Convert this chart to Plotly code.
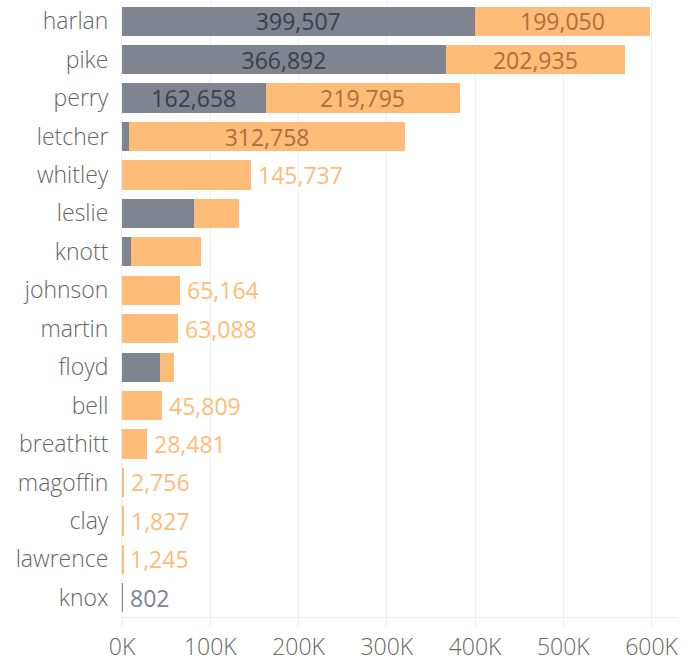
import plotly.graph_objects as go

counties = ["harlan", "pike", "perry", "letcher", "whitley", "leslie", "knott",
            "johnson", "martin", "floyd", "bell", "breathitt", "magoffin", "clay",
            "lawrence", "knox"]
gray_vals = [399507, 366892, 162658, 8000, 0, 81500, 10500, 0, 0, 43400, 0, 0, 0, 0, 0, 802]
orange_vals = [199050, 202935, 219795, 312758, 145737, 51000, 79400, 65164, 63088,
               15900, 45809, 28481, 2756, 1827, 1245, 0]
x_ticks = [0, 100000, 200000, 300000, 400000, 500000, 600000]
x_tick_labels = ["0K", "100K", "200K", "300K", "400K", "500K", "600K"]

GRAY = "#7e8490"
ORANGE = "#ffbb78"
GRAY_TXT_IN = "#3b3f46"
ORANGE_TXT_IN = "#a8703c"
LABEL_COL = "#666666"
FONT = "Open Sans"
AXIS_WEIGHT = 300
VAL_WEIGHT = 400
FS = 23
MIN_INSIDE = 150000


def inside_text(vals, other):
    return [f"{v:,}" if (v >= MIN_INSIDE and o > 0) else "" for v, o in zip(vals, other)]


fig = go.Figure()
fig.add_trace(go.Bar(
    y=counties, x=gray_vals, orientation="h", marker=dict(color=GRAY, line=dict(width=0)),
    text=inside_text(gray_vals, orange_vals), textposition="inside",
    insidetextanchor="middle", constraintext="none",
    textfont=dict(color=GRAY_TXT_IN, size=FS, family=FONT, weight=VAL_WEIGHT),
    hoverinfo="skip"))
fig.add_trace(go.Bar(
    y=counties, x=orange_vals, orientation="h", marker=dict(color=ORANGE, line=dict(width=0)),
    text=inside_text(orange_vals, gray_vals), textposition="inside",
    insidetextanchor="middle", constraintext="none",
    textfont=dict(color=ORANGE_TXT_IN, size=FS, family=FONT, weight=VAL_WEIGHT),
    hoverinfo="skip"))

# outside labels for single-segment bars
for c, g, o in zip(counties, gray_vals, orange_vals):
    if g == 0 or o == 0:
        val = o if g == 0 else g
        col = ORANGE if g == 0 else GRAY
        fig.add_annotation(x=g + o, y=c, text=f"{val:,}", showarrow=False,
                           xanchor="left", xshift=5,
                           font=dict(color=col, size=FS, family=FONT, weight=VAL_WEIGHT))

fig.update_layout(
    barmode="stack", bargap=0.24, showlegend=False,
    width=694, height=662, plot_bgcolor="white", paper_bgcolor="white",
    margin=dict(l=122, r=16, t=2, b=45, autoexpand=False),
    font=dict(family=FONT, weight=AXIS_WEIGHT),
)
fig.update_yaxes(autorange="reversed", automargin=False,
                 tickfont=dict(size=FS, color=LABEL_COL, family=FONT, weight=AXIS_WEIGHT),
                 showgrid=False, showline=True, linecolor="#eeeeee", linewidth=1,
                 ticks="", ticklabelstandoff=8)
fig.update_xaxes(range=[0, 630000], tickvals=x_ticks, ticktext=x_tick_labels, automargin=False,
                 showgrid=True, gridcolor="#efefef", gridwidth=1,
                 tickfont=dict(size=FS, color=LABEL_COL, family=FONT, weight=AXIS_WEIGHT),
                 ticks="outside", ticklen=9, tickcolor="#efefef",
                 showline=True, linecolor="#efefef", zeroline=False)
fig.write_html("out.html", config={"displayModeBar": False},
               post_script="document.body.style.margin='0';document.body.style.overflow='hidden';")
